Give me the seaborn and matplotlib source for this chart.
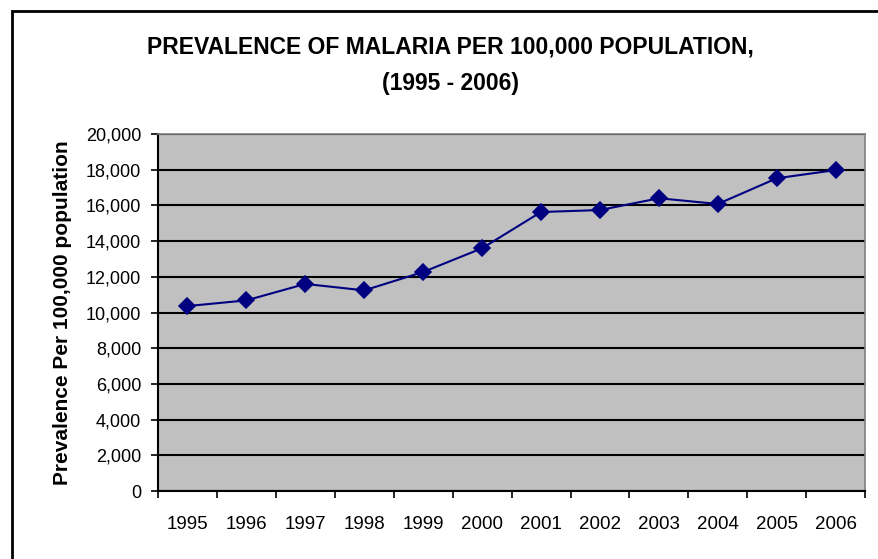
"""
Malaria prevalence per 100,000 population, 1995-2006 (Excel-style line chart).
"""

import matplotlib
matplotlib.use("Agg")
import matplotlib.pyplot as plt
import matplotlib.patches as mpatches
import matplotlib.ticker as mtick
import pandas as pd
import seaborn as sns

YEARS = ["1995", "1996", "1997", "1998", "1999", "2000",
         "2001", "2002", "2003", "2004", "2005", "2006"]
PREVALENCE = [10360, 10680, 11600, 11240, 12270, 13600,
              15630, 15740, 16400, 16080, 17520, 17980]
Y_TICKS = list(range(0, 20001, 2000))

NAVY = "#000080"
PLOT_BG = "#C0C0C0"

sns.set_style("white")
plt.rcParams["font.family"] = ["Liberation Sans", "DejaVu Sans"]
plt.rcParams.update({"text.color": "black", "axes.labelcolor": "black",
                     "xtick.color": "black", "ytick.color": "black"})

df = pd.DataFrame({"year": YEARS, "prevalence": PREVALENCE})

fig = plt.figure(figsize=(8.79, 5.59), dpi=100)
ax = fig.add_axes([0.1797, 0.1216, 0.8046, 0.6387])
ax.set_facecolor(PLOT_BG)

sns.pointplot(data=df, x="year", y="prevalence", color=NAVY, markers="D",
              markersize=8, linewidth=1.5, ax=ax, zorder=5)

ax.set_ylim(0, 20000)
ax.set_xlim(-0.5, len(YEARS) - 0.5)
ax.set_yticks(Y_TICKS)
ax.yaxis.set_major_formatter(mtick.StrMethodFormatter("{x:,.0f}"))
ax.yaxis.grid(True, color="black", linewidth=1.5)
ax.set_axisbelow(True)

# Excel style: tick marks between categories, labels on the categories
ax.set_xticks([i - 0.5 for i in range(len(YEARS) + 1)], minor=True)
ax.tick_params(axis="x", which="major", length=0, pad=18, labelsize=13.5)
ax.tick_params(axis="x", which="minor", length=5, width=1.2,
               direction="out", bottom=True)
ax.tick_params(axis="y", length=5, width=1.2, direction="out",
               left=True, labelsize=13, pad=7)

for side in ("left", "bottom"):
    ax.spines[side].set_color("black")
    ax.spines[side].set_linewidth(1.5)
for side in ("top", "right"):
    ax.spines[side].set_color("#808080")
    ax.spines[side].set_linewidth(1.2)

ax.set_xlabel("")
ax.set_ylabel("Prevalence Per 100,000 population", fontsize=15,
              fontweight="bold", labelpad=10)

fig.text(0.513, 0.916, "PREVALENCE OF MALARIA PER 100,000 POPULATION,",
         ha="center", va="center", fontsize=16.5, fontweight="bold")
fig.text(0.513, 0.851, "(1995 - 2006)", ha="center", va="center",
         fontsize=16.5, fontweight="bold")

# chart-area border, running off the right and bottom edges
border = mpatches.Rectangle((12 / 879, -0.1), 1.2, 1.1 - 10.5 / 559,
                            transform=fig.transFigure, fill=False,
                            edgecolor="black", linewidth=2, clip_on=False)
fig.patches.append(border)

fig.savefig("out.png", dpi=100, facecolor="white")
